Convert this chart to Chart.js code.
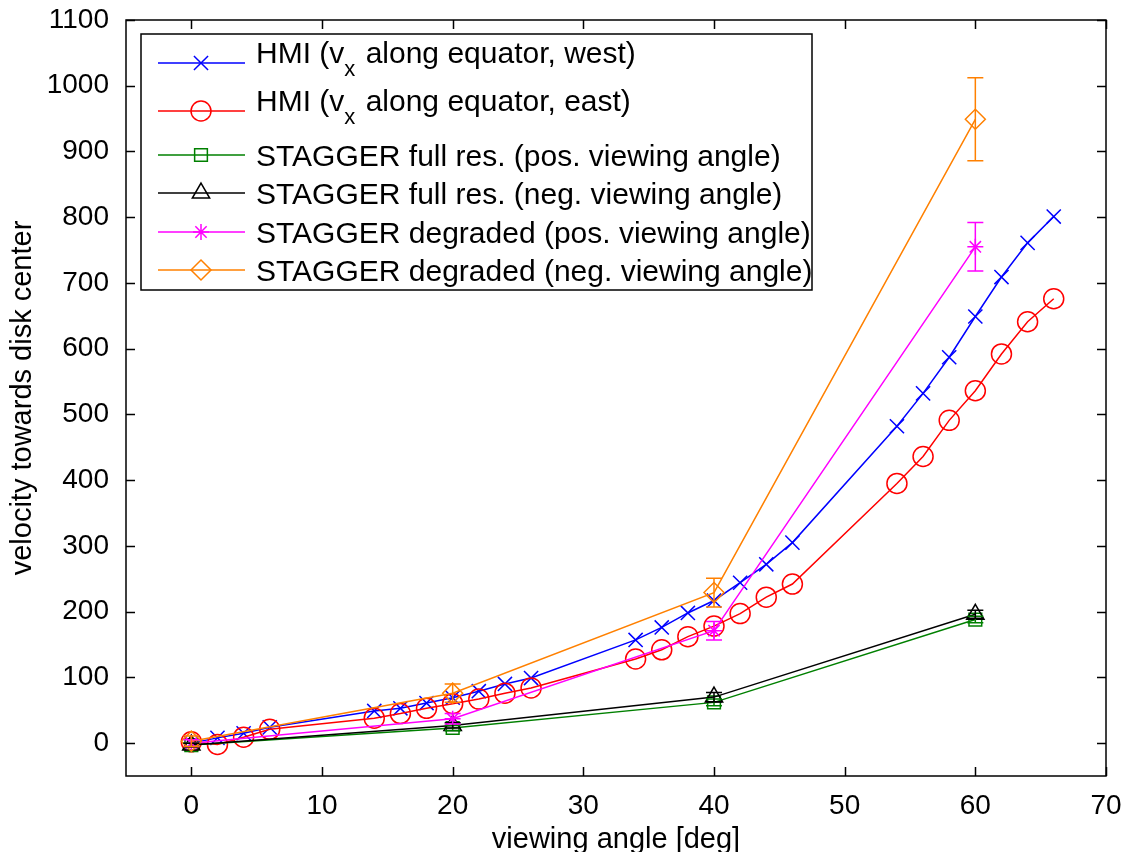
<!DOCTYPE html>
<html>
<head>
<meta charset="utf-8">
<script src="https://cdn.jsdelivr.net/npm/chart.js@4.4.0/dist/chart.umd.min.js"></script>
<style>
    html, body { margin: 0; padding: 0; background: #fff; }
    canvas { display: block; }
</style>
</head>
<body>
<canvas id="velocityChart" width="1126" height="852" style="width:1126px;height:852px"></canvas>
<script>
// --- Data ---
const hmiAngles = [0, 2, 4, 6, 14, 16, 18, 20, 22, 24, 26, 34, 36, 38, 40, 42, 44, 46, 54, 56, 58, 60, 62, 64, 66];
const hmiWest = [0, 8, 15, 24, 49, 53, 61, 69, 79, 90, 99, 157, 176, 198, 217, 244, 272, 305, 482, 532, 587, 649, 709, 761, 801];
const hmiEast = [2, -2, 9, 21, 38, 45, 53, 60, 67, 76, 84, 128, 142, 162, 178, 197, 222, 242, 395, 436, 491, 536, 592, 641, 676];

const staggerAngles = [0, 20, 40, 60];
const fullResPos = [-3, 23, 62, 188];
const fullResPosErr = [3, 4, 5, 5];
const fullResNeg = [-3, 27, 70, 196];
const fullResNegErr = [3, 4, 7, 6];
const degradedPos = [0, 37, 171, 755];
const degradedPosErr = [5, 8, 14, 37];
const degradedNeg = [3, 76, 229, 949];
const degradedNegErr = [8, 14, 22, 63];

const seriesLabels = [
    'HMI (v_x along equator, west)',
    'HMI (v_x along equator, east)',
    'STAGGER full res. (pos. viewing angle)',
    'STAGGER full res. (neg. viewing angle)',
    'STAGGER degraded (pos. viewing angle)',
    'STAGGER degraded (neg. viewing angle)'
];
const xTickStep = 10;
const yTickStep = 100;

const FONT = "'Liberation Sans', Arial, Helvetica, sans-serif";

function toPoints(xs, ys) {
    return xs.map((x, i) => ({ x: x, y: ys[i] }));
}

function series(i, xs, ys, color, style, radius, errors) {
    return {
        label: seriesLabels[i],
        data: toPoints(xs, ys),
        errors: errors || null,
        borderColor: color,
        backgroundColor: 'transparent',
        borderWidth: 1.5,
        pointStyle: style,
        pointRadius: radius,
        pointBorderWidth: 1.5,
        pointBorderColor: color,
        pointBackgroundColor: 'transparent',
        tension: 0,
        // matlab draws in plot order, later series on top
        order: 10 - i
    };
}

const datasets = [
    series(0, hmiAngles, hmiWest, '#0000ff', 'crossRot', 10),
    series(1, hmiAngles, hmiEast, '#ff0000', 'circle', 10),
    series(2, staggerAngles, fullResPos, '#008000', 'rect', 9, fullResPosErr),
    series(3, staggerAngles, fullResNeg, '#000000', 'triangle', 10, fullResNegErr),
    series(4, staggerAngles, degradedPos, '#ff00ff', 'star', 8, degradedPosErr),
    series(5, staggerAngles, degradedNeg, '#ff8000', 'rectRot', 10, degradedNegErr)
];

// keep the plot box exactly where the layout padding puts it
function noScalePadding(scale) {
    scale.paddingLeft = 0;
    scale.paddingRight = 0;
    scale.paddingTop = 0;
    scale.paddingBottom = 0;
}

// --- error bars, inward ticks, box and legend ---
const matlabLook = {
    id: 'matlabLook',
    afterDatasetsDraw(chart) {
        const { ctx } = chart;
        const xs = chart.scales.x, ys = chart.scales.y;
        chart.data.datasets.forEach(ds => {
            if (!ds.errors) return;
            ctx.save();
            ctx.strokeStyle = ds.borderColor;
            ctx.lineWidth = 1.5;
            ds.data.forEach((p, i) => {
                const e = ds.errors[i];
                if (!e) return;
                const px = xs.getPixelForValue(p.x);
                const hi = ys.getPixelForValue(p.y + e);
                const lo = ys.getPixelForValue(p.y - e);
                ctx.beginPath();
                ctx.moveTo(px, hi); ctx.lineTo(px, lo);
                ctx.moveTo(px - 8, hi); ctx.lineTo(px + 8, hi);
                ctx.moveTo(px - 8, lo); ctx.lineTo(px + 8, lo);
                ctx.stroke();
            });
            ctx.restore();
        });
    },
    afterDraw(chart) {
        const { ctx, chartArea } = chart;
        const { left, right, top, bottom } = chartArea;
        const xs = chart.scales.x, ys = chart.scales.y;
        const tl = 9;

        ctx.save();
        ctx.strokeStyle = '#000';
        ctx.lineWidth = 1.5;
        ctx.strokeRect(left, top, right - left, bottom - top);
        ctx.beginPath();
        xs.ticks.forEach(t => {
            const px = Math.round(xs.getPixelForValue(t.value)) + 0.5;
            ctx.moveTo(px, bottom); ctx.lineTo(px, bottom - tl);
            ctx.moveTo(px, top); ctx.lineTo(px, top + tl);
        });
        ys.ticks.forEach(t => {
            const py = Math.round(ys.getPixelForValue(t.value)) + 0.5;
            ctx.moveTo(left, py); ctx.lineTo(left + tl, py);
            ctx.moveTo(right, py); ctx.lineTo(right - tl, py);
        });
        ctx.stroke();

        // legend box
        const box = { x: 141, y: 34, w: 671, h: 256 };
        const rowY = [63, 111, 155, 193, 232, 270];
        ctx.fillStyle = '#fff';
        ctx.fillRect(box.x, box.y, box.w, box.h);
        ctx.strokeRect(box.x, box.y, box.w, box.h);

        const drawPoint = Chart.helpers.drawPoint;
        chart.data.datasets.forEach((ds, i) => {
            const y = rowY[i];
            ctx.strokeStyle = ds.borderColor;
            ctx.lineWidth = 1.5;
            ctx.beginPath();
            ctx.moveTo(158, y); ctx.lineTo(245, y);
            ctx.stroke();
            ctx.fillStyle = 'rgba(0,0,0,0)';
            drawPoint(ctx, {
                pointStyle: ds.pointStyle,
                radius: ds.pointRadius,
                rotation: 0,
                borderWidth: 1.5
            }, 201, y);

            ctx.fillStyle = '#000';
            ctx.textBaseline = 'alphabetic';
            ctx.textAlign = 'left';
            const label = ds.label;
            let tx = 256;
            if (label.indexOf('_') >= 0) {
                const pre = label.slice(0, label.indexOf('_'));
                const sub = label.charAt(label.indexOf('_') + 1);
                const post = label.slice(label.indexOf('_') + 2);
                ctx.font = '30px ' + FONT;
                ctx.fillText(pre, tx, y);
                tx += ctx.measureText(pre).width;
                ctx.font = '22px ' + FONT;
                ctx.fillText(sub, tx, y + 13);
                tx += ctx.measureText(sub).width + 2;
                ctx.font = '30px ' + FONT;
                ctx.fillText(post, tx, y);
            } else {
                ctx.font = '30px ' + FONT;
                ctx.fillText(label, tx, y + 11);
            }
        });
        ctx.restore();
    }
};

const ctx = document.getElementById('velocityChart').getContext('2d');
new Chart(ctx, {
    type: 'line',
    data: { datasets: datasets },
    plugins: [matlabLook],
    options: {
        responsive: false,
        devicePixelRatio: 1,
        animation: false,
        layout: { padding: { top: 20, right: 20, left: 0, bottom: 0 } },
        plugins: { legend: { display: false }, tooltip: { enabled: false } },
        scales: {
            x: {
                type: 'linear',
                min: -5,
                max: 70,
                grid: { display: false },
                border: { display: false },
                ticks: {
                    stepSize: xTickStep,
                    includeBounds: false,
                    padding: 5,
                    color: '#000',
                    maxRotation: 0,
                    font: { family: FONT, size: 28 },
                    callback: v => String(v)
                },
                title: {
                    display: true,
                    text: 'viewing angle [deg]',
                    color: '#000',
                    font: { family: FONT, size: 29, lineHeight: 1 },
                    padding: { top: 0, bottom: -2 }
                },
                afterFit: scale => { scale.height = 76; noScalePadding(scale); }
            },
            y: {
                type: 'linear',
                min: -50,
                max: 1100,
                grid: { display: false },
                border: { display: false },
                ticks: {
                    stepSize: yTickStep,
                    includeBounds: false,
                    padding: 9,
                    color: '#000',
                    font: { family: FONT, size: 28 },
                    callback: v => String(v)
                },
                title: {
                    display: true,
                    text: 'velocity towards disk center',
                    color: '#000',
                    font: { family: FONT, size: 29, lineHeight: 1 },
                    padding: { top: 8, bottom: 0 }
                },
                afterFit: scale => { scale.width = 126; noScalePadding(scale); }
            }
        }
    }
});
</script>
</body>
</html>
